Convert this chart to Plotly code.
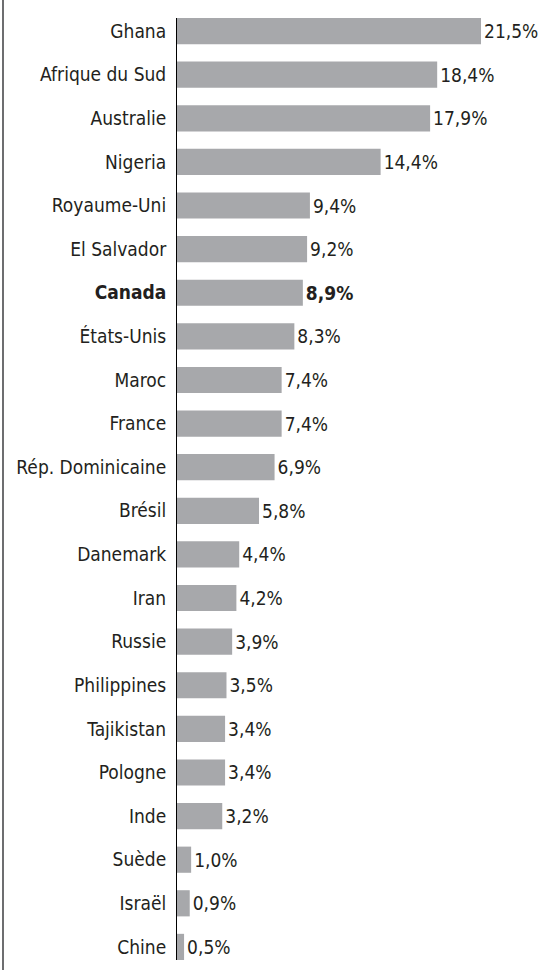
import plotly.graph_objects as go

countries = ["Ghana", "Afrique du Sud", "Australie", "Nigeria", "Royaume-Uni", "El Salvador",
             "Canada", "États-Unis", "Maroc", "France", "Rép. Dominicaine", "Brésil",
             "Danemark", "Iran", "Russie", "Philippines", "Tajikistan", "Pologne", "Inde",
             "Suède", "Israël", "Chine"]
values = [21.5, 18.4, 17.9, 14.4, 9.4, 9.2, 8.9, 8.3, 7.4, 7.4, 6.9, 5.8,
          4.4, 4.2, 3.9, 3.5, 3.4, 3.4, 3.2, 1.0, 0.9, 0.5]
highlight = "Canada"

W, H = 538, 970
ML, MR, MT, MB = 177, 0, 18, 10
FONT = "DejaVu Sans Condensed, sans-serif"
TXT = "#231f20"

def fmt(v):
    return f"{v:.1f}".replace(".", ",") + "%"

labels = [f"<b>{c}</b>" if c == highlight else c for c in countries]
texts = [f"<b>{fmt(v)}</b>" if c == highlight else fmt(v) for c, v in zip(countries, values)]

fig = go.Figure(go.Bar(
    x=values, y=labels, orientation="h",
    marker=dict(color="#a7a8ab", line=dict(width=0)),
    text=texts, textposition="outside", cliponaxis=False,
    textfont=dict(family=FONT, size=19, color=TXT),
    width=0.6, hoverinfo="skip",
))

plot_w = W - ML - MR
px_per_unit = 14.14
n = len(countries)
fig.update_layout(
    width=W, height=H,
    margin=dict(l=ML, r=MR, t=MT, b=MB, pad=0),
    plot_bgcolor="white", paper_bgcolor="white",
    showlegend=False,
    font=dict(family=FONT, size=19, color=TXT),
    xaxis=dict(range=[0, plot_w / px_per_unit], visible=False, fixedrange=True),
    yaxis=dict(range=[n - 1 + 0.3, -0.3], showline=True, linecolor="#000000", linewidth=1,
               showgrid=False, ticks="", ticklabelstandoff=6, fixedrange=True,
               tickfont=dict(family=FONT, size=19, color=TXT)),
)

fig.add_shape(type="line", xref="paper", yref="paper",
              x0=(3 - ML) / plot_w, x1=(3 - ML) / plot_w,
              y0=-MB / (H - MT - MB), y1=1 + MT / (H - MT - MB),
              line=dict(color="#6d6e70", width=2))

fig.write_html("out.html", config={"displayModeBar": False, "staticPlot": True},
               post_script="document.body.style.margin='0';document.body.style.padding='0';document.body.style.overflow='hidden';")
